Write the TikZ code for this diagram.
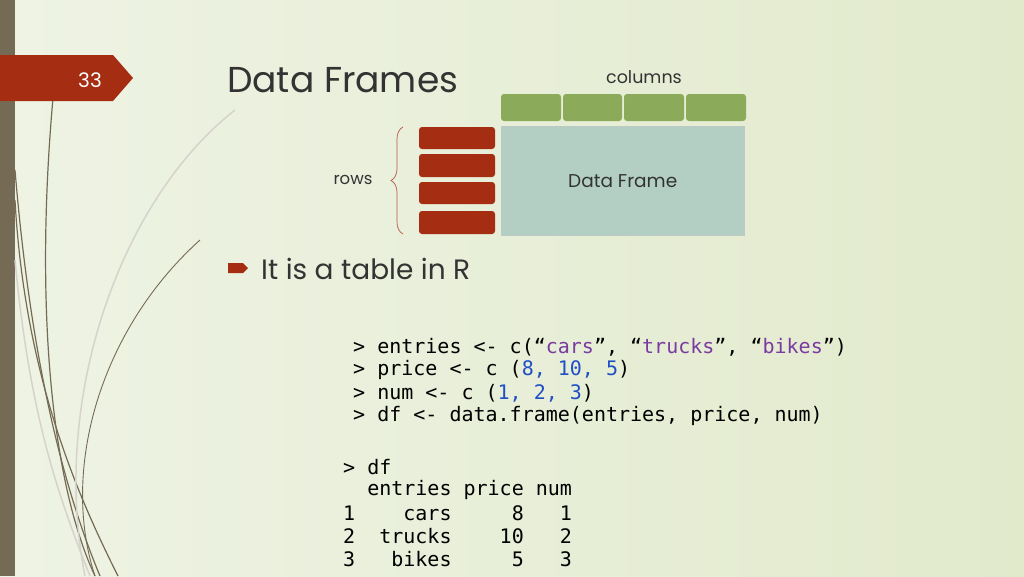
\documentclass[tikz,border=0pt]{standalone}
\usepackage{fontspec}
\setmainfont{Poppins}
\setmonofont{DejaVu Sans Mono}
\usetikzlibrary{decorations.pathreplacing}
\definecolor{bgA}{HTML}{EEF3E4}
\definecolor{bgB}{HTML}{E2EACC}
\definecolor{strip}{HTML}{756B55}
\definecolor{rust}{HTML}{A52D12}
\definecolor{grn}{HTML}{8CAB5A}
\definecolor{teal}{HTML}{B3CFC3}
\definecolor{kw}{HTML}{7A3BA0}
\definecolor{num}{HTML}{1F4FC4}
\definecolor{ink}{HTML}{333333}
\begin{document}
\begin{tikzpicture}[x=1pt,y=-1pt,
  rowbox/.style={fill=rust,rounded corners=3pt,draw=none},
  colbox/.style={fill=grn,rounded corners=3pt,draw=none},
  code/.style={anchor=west,font=\ttfamily\fontsize{20}{22}\selectfont,text=black,inner sep=0},
  curve/.style={draw=strip,line width=1.2pt}]
\useasboundingbox (0,0) rectangle (1024,576);
\shade[left color=bgA,right color=bgB] (0,0) rectangle (1024,576);
\fill[strip] (0,0) rectangle (15,576);
% curves
\draw[curve] (53,98) .. controls (35,300) and (50,480) .. (95,576);
\draw[curve] (15,170) .. controls (30,350) and (60,480) .. (100,576);
\draw[curve] (15,200) .. controls (25,380) and (80,500) .. (118,576);
\draw[curve,line width=0.9pt] (200,240) .. controls (100,330) and (60,470) .. (95,576);
\draw[draw=strip!30,line width=1.5pt] (235,110) .. controls (120,200) and (50,400) .. (85,576);
\draw[draw=strip!30,line width=1.5pt] (15,260) .. controls (30,420) and (60,500) .. (90,576);
% number banner
\fill[rust] (0,55) -- (113,55) -- (133,78) -- (113,101) -- (0,101) -- cycle;
\node[text=white,font=\fontsize{20}{22}\selectfont] (num) at (90,80) {33};
\node[anchor=west,text=ink,font=\fontsize{36}{40}\selectfont,inner sep=0] (title) at (227,80) {Data Frames};
% diagram
\node[font=\fontsize{17.5}{20}\selectfont,text=ink] (colsl) at (644,77) {columns};
\foreach \i/\a/\b in {1/501/561,2/563/622,3/624/684,4/686/746}
  \fill[colbox] (\a,94) rectangle (\b,121);
\foreach \i/\a/\b in {1/127/149,2/154/177,3/182/204,4/211/234}
  \fill[rowbox] (419,\a) rectangle (495,\b);
\node[draw=teal!80!black!60,fill=teal,minimum width=243pt,minimum height=109pt,anchor=north west,inner sep=0,font=\fontsize{18.5}{20}\selectfont,text=ink] (df) at (501,126) {Data Frame};
\node[font=\fontsize{16.5}{18}\selectfont,text=ink] (rowsl) at (353,180) {rows};
\coordinate (bt) at (403,127);
\coordinate (bb) at (403,234);
\draw[rust!80,line width=0.7pt,decorate,decoration={brace,amplitude=12pt}] (bb) -- (bt);
% bullet
\fill[rust] (228,263) -- (243,263) -- (248,268) -- (243,273) -- (228,273) -- cycle;
\node[anchor=west,text=ink,font=\fontsize{28}{32}\selectfont,inner sep=0] (bullet) at (261,269) {It is a table in R};
% code
\node[code] (c1) at (353,347) {> entries <- c(“\textcolor{kw}{cars}”, “\textcolor{kw}{trucks}”, “\textcolor{kw}{bikes}”)};
\node[code] (c2) at (353,370) {> price <- c (\textcolor{num}{8, 10, 5})};
\node[code] (c3) at (353,393) {> num <- c (\textcolor{num}{1, 2, 3})};
\node[code] (c4) at (353,416) {> df <- data.frame(entries, price, num)};
\node[code] (o1) at (343,467) {> df};
\node[code] (o2) at (343,490) {\ \ entries price num};
\node[code] (o3) at (343,513) {1\ \ \ \ cars\ \ \ \ \ 8\ \ \ 1};
\node[code] (o4) at (343,536) {2\ \ trucks\ \ \ \ 10\ \ \ 2};
\node[code] (o5) at (343,559) {3\ \ \ bikes\ \ \ \ \ 5\ \ \ 3};
\end{tikzpicture}
\end{document}
